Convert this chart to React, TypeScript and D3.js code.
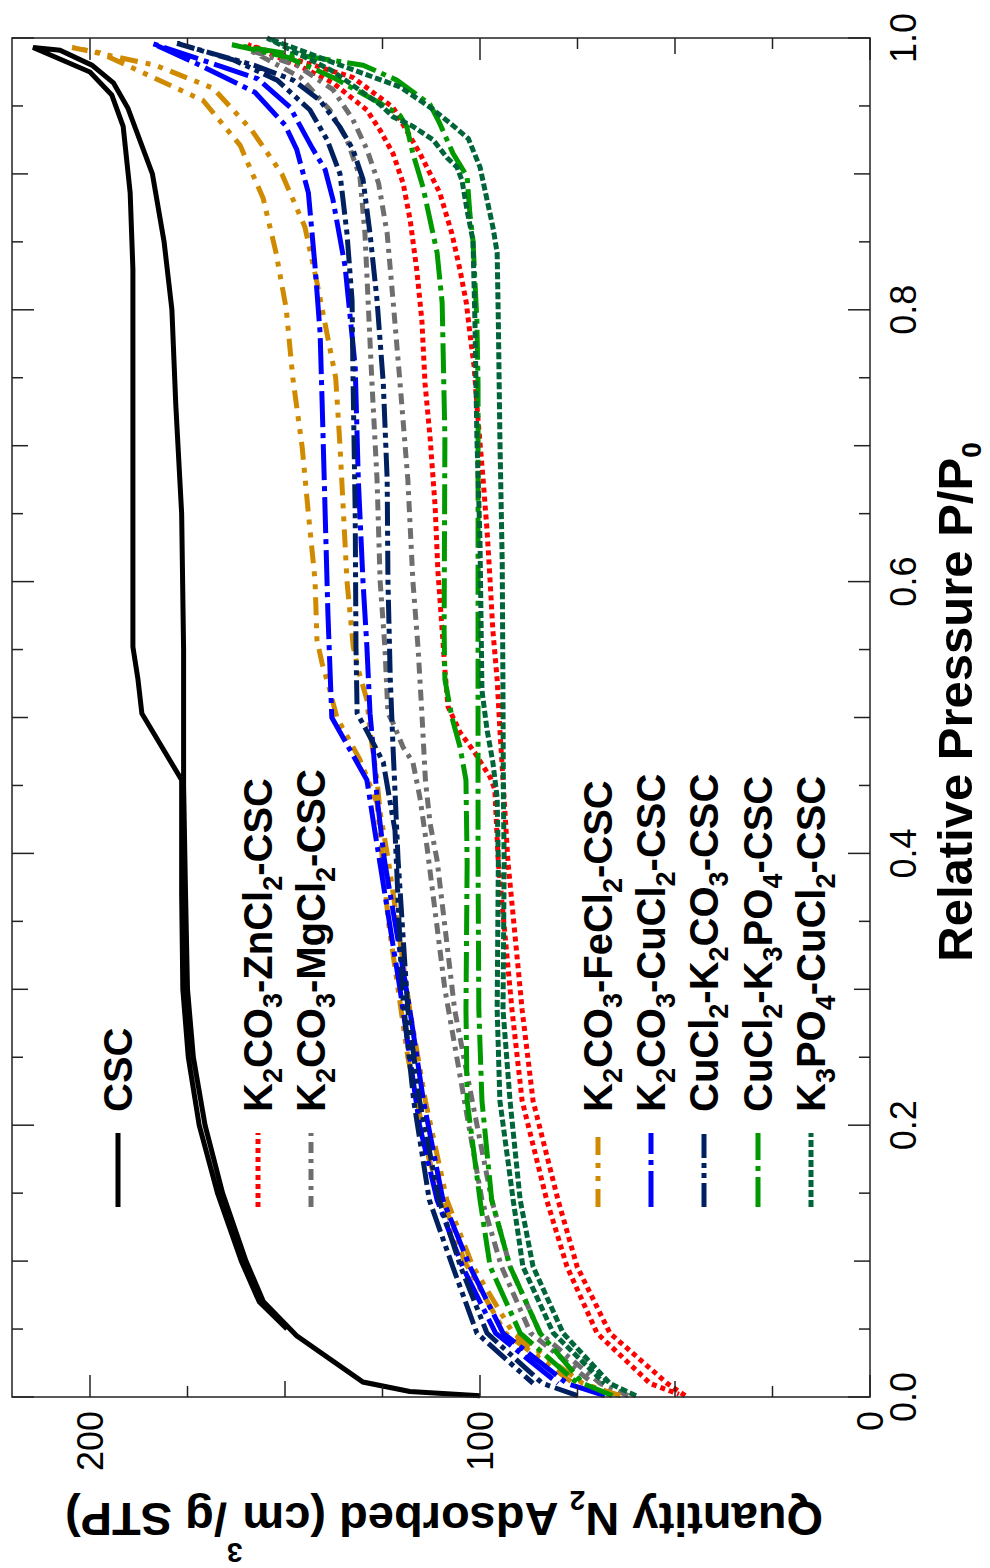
import React from "react";
import * as d3 from "d3";

type Pt = [number, number];

// [P/P0, quantity adsorbed cm3/g STP] – adsorption branch then desorption branch
const cscAds: Pt[] = [[0.001,100],[0.004,118],[0.011,130],[0.045,147],[0.07,155.5],[0.1,160],[0.15,166],[0.2,170.5],[0.25,173.5],[0.3,175],[0.37,175.5],[0.45,176],[0.55,176],[0.65,176.5],[0.73,178],[0.8,179],[0.85,181],[0.9,184],[0.9485,190.3],[0.967,194],[0.98,199.5],[0.991,207.7],[0.993,214.6]];
const cscDes: Pt[] = [[0.993,214.6],[0.975,200],[0.958,194.4],[0.935,191.5],[0.886,189.7],[0.83,189],[0.73,189],[0.552,189],[0.528,187.7],[0.503,186.7],[0.454,176.5],[0.37,176.5],[0.3,176.2],[0.25,174.8],[0.2,172],[0.15,167.3],[0.1,161.2],[0.07,156.6],[0.05,149.5]];

const znAds: Pt[] = [[0.001,47.4],[0.01,52],[0.047,66.7],[0.096,75.1],[0.145,80],[0.218,86.4],[0.285,89.2],[0.393,92.8],[0.454,94.1],[0.491,94.9],[0.528,95.6],[0.564,96.7],[0.6,97.4],[0.638,98.2],[0.675,99.2],[0.719,100.5],[0.758,101.5],[0.783,102.6],[0.805,103.5],[0.829,105.1],[0.856,107.2],[0.886,110.3],[0.915,115.4],[0.949,122.3],[0.971,132.6],[0.995,159.5]];
const znDes: Pt[] = [[0.995,159.5],[0.979,146],[0.967,137.7],[0.947,129],[0.932,125.6],[0.915,122.3],[0.893,119.7],[0.866,117.9],[0.829,116.2],[0.792,114.9],[0.746,114.1],[0.706,112.8],[0.655,111.5],[0.608,110.8],[0.564,109.7],[0.535,109],[0.508,108.2],[0.489,105.1],[0.474,101.3],[0.456,97.4],[0.447,96.2],[0.393,95.3],[0.285,91.8],[0.218,89.2],[0.145,82.9],[0.096,77.7],[0.047,70],[0.01,56.4],[0.002,49]];

const mgAds: Pt[] = [[0.001,62],[0.01,69.2],[0.047,84.6],[0.096,92.3],[0.145,97],[0.218,102],[0.285,106.5],[0.395,111],[0.422,112.8],[0.454,114],[0.503,114.9],[0.552,115.9],[0.6,117.2],[0.675,118.5],[0.746,120.5],[0.807,122.3],[0.856,123.8],[0.893,126],[0.918,129],[0.94,132.6],[0.962,137.7],[0.98,147],[0.991,159]];
const mgDes: Pt[] = [[0.991,159],[0.971,146],[0.947,138.5],[0.925,134.1],[0.898,130.8],[0.856,129.5],[0.807,128.7],[0.746,127.7],[0.675,126.4],[0.6,125.6],[0.552,124.4],[0.503,123.6],[0.496,122.3],[0.478,119.7],[0.467,117.2],[0.441,115.4],[0.405,113.6],[0.3,109],[0.218,104],[0.145,99.5],[0.096,94.5],[0.047,87],[0.01,71]];

const feAds: Pt[] = [[0.001,64],[0.01,73.6],[0.047,91.5],[0.096,101.8],[0.145,108.5],[0.218,114],[0.285,118],[0.395,123.5],[0.43,125.6],[0.454,126.4],[0.49,128.2],[0.513,129],[0.535,131.2],[0.552,132.5],[0.6,134.1],[0.65,135],[0.7,135.9],[0.75,137],[0.82,141.8],[0.861,144.9],[0.9,150.8],[0.932,158.5],[0.963,168.4],[0.98,183.3],[0.993,204.6]];
const feDes: Pt[] = [[0.993,204.6],[0.989,197.4],[0.954,171],[0.921,161.5],[0.882,155.6],[0.842,152.3],[0.801,149.7],[0.75,148],[0.699,145.6],[0.65,144],[0.601,142.3],[0.557,141.8],[0.54,140.5],[0.52,138.5],[0.5,136.7],[0.469,130.8],[0.437,126.4],[0.35,123.5],[0.25,118.5],[0.174,113],[0.1,104],[0.047,93.5],[0.01,76]];

const cuAds: Pt[] = [[0.001,68],[0.01,77.7],[0.047,94.1],[0.096,102.6],[0.145,109.5],[0.218,114.5],[0.285,118],[0.395,124.5],[0.441,126.4],[0.478,127.4],[0.503,128.2],[0.552,129],[0.6,130],[0.675,131.2],[0.758,132],[0.795,133.3],[0.832,134.6],[0.881,137.7],[0.903,139.7],[0.919,143],[0.949,148.7],[0.97,157],[0.996,184]];
const cuDes: Pt[] = [[0.996,184],[0.98,171.8],[0.96,157.7],[0.936,150],[0.918,147],[0.886,144],[0.832,142.3],[0.783,141],[0.734,140.5],[0.65,139.7],[0.577,139],[0.5,138],[0.454,129],[0.417,127],[0.3,120.5],[0.2,115.5],[0.145,111],[0.096,104.5],[0.047,96],[0.01,80]];

const cuK2Ads: Pt[] = [[0.001,75],[0.01,84],[0.047,98.2],[0.096,105],[0.145,110.5],[0.218,115.5],[0.285,118.5],[0.395,121],[0.478,122.3],[0.528,123],[0.6,123.6],[0.675,123.8],[0.746,124.8],[0.807,126.4],[0.856,128.2],[0.896,130],[0.918,132.6],[0.9345,135.9],[0.954,141],[0.969,147.9],[0.98,158],[0.996,177.7]];
const cuK2Des: Pt[] = [[0.996,177.7],[0.984,163.3],[0.969,152],[0.947,143.6],[0.925,139.2],[0.9,135.9],[0.856,134.1],[0.807,132.8],[0.758,132.6],[0.65,132],[0.552,131.8],[0.503,131.5],[0.49,129],[0.467,124.8],[0.417,121.8],[0.3,120],[0.218,117],[0.145,113],[0.096,107],[0.047,100.8],[0.01,86.4]];

const cuK3Ads: Pt[] = [[0.001,66],[0.01,73.6],[0.047,84.6],[0.096,92.3],[0.145,97],[0.218,99.5],[0.285,100.3],[0.393,100.5],[0.5,100.5],[0.63,100.5],[0.746,100.5],[0.792,100.8],[0.851,101.8],[0.871,102.6],[0.898,103.3],[0.915,106.9],[0.937,110.3],[0.951,112.8],[0.969,121.3],[0.98,130],[0.995,163.6]];
const cuK3Des: Pt[] = [[0.995,163.6],[0.986,149.5],[0.971,137.7],[0.952,125.6],[0.943,120.5],[0.935,118.8],[0.915,117.2],[0.89,114.6],[0.866,112.8],[0.842,111],[0.805,109.7],[0.706,109],[0.564,109.2],[0.528,109],[0.5,107.2],[0.478,105.1],[0.454,103.6],[0.393,103.3],[0.285,103.6],[0.218,103.3],[0.145,100],[0.096,97.4],[0.047,89.7],[0.01,75]];

const k3CuAds: Pt[] = [[0.001,60],[0.01,66.7],[0.047,78.7],[0.096,86.4],[0.145,89.7],[0.218,92.3],[0.285,94.1],[0.393,93.8],[0.441,94],[0.515,94.1],[0.614,94.3],[0.706,94.9],[0.792,95.3],[0.842,95.6],[0.861,96.7],[0.905,100],[0.926,103],[0.9375,107.7],[0.949,112.8],[0.964,120.5],[0.982,137.7],[1.0,154.6]];
const k3CuDes: Pt[] = [[1.0,154.6],[0.976,138],[0.951,125.6],[0.942,122.3],[0.935,117.2],[0.925,112],[0.912,108.5],[0.905,105.9],[0.895,104.6],[0.873,103.3],[0.851,101.8],[0.792,101.3],[0.706,100.8],[0.63,100],[0.52,99.5],[0.491,98.2],[0.467,96.7],[0.441,95.6],[0.393,95.3],[0.285,95.6],[0.218,94.9],[0.145,91.5],[0.096,89],[0.047,81.2],[0.01,68]];

const xTickLabels = [0, 0.2, 0.4, 0.6, 0.8, 1.0];
const yTickLabels = [0, 100, 200];

const series = [
  { label: "CSC", ads: cscAds, des: cscDes, color: "#000000", dash: "" },
  { label: "K2CO3-ZnCl2-CSC", ads: znAds, des: znDes, color: "#ff0000", dash: "5 4" },
  { label: "K2CO3-MgCl2-CSC", ads: mgAds, des: mgDes, color: "#6e6e6e", dash: "11 6 4 6" },
  { label: "K2CO3-FeCl2-CSC", ads: feAds, des: feDes, color: "#d08a00", dash: "18 8 5 8 5 8" },
  { label: "K2CO3-CuCl2-CSC", ads: cuAds, des: cuDes, color: "#0000ff", dash: "36 6 5 6" },
  { label: "CuCl2-K2CO3-CSC", ads: cuK2Ads, des: cuK2Des, color: "#00205f", dash: "24 5 5 5 5 5" },
  { label: "CuCl2-K3PO4-CSC", ads: cuK3Ads, des: cuK3Des, color: "#009a00", dash: "30 6 5 6" },
  { label: "K3PO4-CuCl2-CSC", ads: k3CuAds, des: k3CuDes, color: "#00663a", dash: "7 3" },
];

// original (unrotated) frame
const W = 1568;
const H = 990;
const legendBaselines = [132, 272, 325, 612, 665, 718, 772, 825];

function chem(label: string, subSize: number, shift: number) {
  const parts = label.split(/(\d)/).filter((s) => s !== "");
  let down = false;
  return parts.map((p, i) => {
    const isSub = /^\d$/.test(p);
    let dy = 0;
    if (isSub && !down) { dy = shift; down = true; }
    else if (!isSub && down) { dy = -shift; down = false; }
    return (
      <tspan key={i} dy={dy} fontSize={isSub ? subSize : undefined}>{p}</tspan>
    );
  });
}

export default function App() {
  const x = d3.scaleLinear().domain([0, 1]).range([171, 1530]);
  const y = d3.scaleLinear().domain([0, 220]).range([870, 12]);
  const line = d3.line<Pt>().x((d) => x(d[0])).y((d) => y(d[1]));

  const [x0, x1] = x.range();
  const [y0, y1] = y.range();

  const xTicks = d3.range(0, 1.0001, 0.05).map((v) => +v.toFixed(2));
  const yTicks = d3.range(0, 201, 25);
  const xLen = (v: number) => (Math.round(v * 100) % 20 === 0 ? 22 : Math.round(v * 100) % 10 === 0 ? 16 : 11);
  const yLen = (v: number) => (v % 100 === 0 ? 22 : v % 50 === 0 ? 16 : 11);

  return (
    <svg width={H} height={W} style={{ position: "absolute", left: 0, top: 0 }}
      fontFamily="'Liberation Sans', Arial, Helvetica, sans-serif">
      <rect width={H} height={W} fill="#fff" />
      <g transform={`translate(0,${W}) rotate(-90)`}>
        {/* data */}
        {series.map((s) => (
          <path key={s.label} d={line([...s.ads, ...s.des.slice(1)]) || ""}
            fill="none" stroke={s.color} strokeWidth={5}
            strokeDasharray={s.dash || undefined} />
        ))}

        {/* frame */}
        <rect x={x0} y={y1} width={x1 - x0} height={y0 - y1} fill="none" stroke="#222" strokeWidth={1.5} />

        {/* ticks */}
        {xTicks.map((t) => (
          <g key={"xt" + t} stroke="#222" strokeWidth={1.5}>
            <line x1={x(t)} x2={x(t)} y1={y0} y2={y0 - xLen(t)} />
            <line x1={x(t)} x2={x(t)} y1={y1} y2={y1 + xLen(t)} />
          </g>
        ))}
        {yTicks.map((t) => (
          <g key={"yt" + t} stroke="#222" strokeWidth={1.5}>
            <line x1={x0} x2={x0 + yLen(t)} y1={y(t)} y2={y(t)} />
            <line x1={x1} x2={x1 - yLen(t)} y1={y(t)} y2={y(t)} />
          </g>
        ))}
        {xTickLabels.map((t) => (
          <text key={"xl" + t} x={x(t)} y={916} textAnchor="middle" fontSize={36} fill="#000">
            {d3.format(".1f")(t)}
          </text>
        ))}
        {yTickLabels.map((t) => (
          <text key={"yl" + t} x={157} y={y(t) + 13} textAnchor="end" fontSize={36} fill="#000">
            {t}
          </text>
        ))}

        {/* axis titles */}
        <text x={866} y={972} textAnchor="middle" fontSize={49} fontWeight="bold">
          Relative Pressure P/P<tspan dy={9} fontSize={28}>0</tspan>
        </text>
        <text transform={`translate(65,444) rotate(-90)`} textAnchor="middle" fontSize={47} fontWeight="bold">
          Quantity N<tspan dy={12} fontSize={28}>2</tspan>
          <tspan dy={-12}> Adsorbed (cm</tspan>
          <tspan dy={-40} fontSize={28}>3</tspan>
          <tspan dy={40}>/g STP)</tspan>
        </text>

        {/* legend */}
        {series.map((s, i) => {
          const b = legendBaselines[i];
          return (
            <g key={"lg" + s.label}>
              <line x1={361} x2={435} y1={b - 14} y2={b - 14} stroke={s.color} strokeWidth={5}
                strokeDasharray={s.dash || undefined} />
              <text x={456} y={b} fontSize={40} fontWeight="bold" fill="#000">
                {chem(s.label, 27, 10)}
              </text>
            </g>
          );
        })}
      </g>
    </svg>
  );
}
